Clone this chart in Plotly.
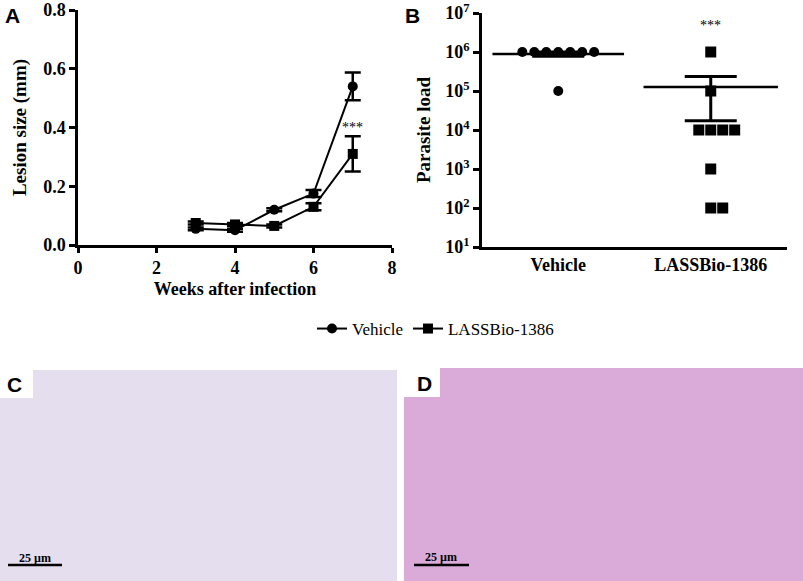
import numpy as np
import plotly.graph_objects as go

# ---------------- data ----------------
weeks = [3, 4, 5, 6, 7]
vehicle_lesion = [0.055, 0.05, 0.12, 0.175, 0.54]
vehicle_err = [0.005, 0.005, 0.005, 0.012, 0.047]
lass_lesion = [0.075, 0.07, 0.065, 0.13, 0.31]
lass_err = [0.005, 0.005, 0.005, 0.012, 0.06]

groups = ["Vehicle", "LASSBio-1386"]
vehicle_load = [1e6, 1e6, 1e6, 1e6, 1e6, 1e6, 1e6, 1e5]
lass_load = [1e6, 1e5, 1e4, 1e4, 1e4, 1e4, 1e3, 1e2, 1e2]

ytick_a = [0.0, 0.2, 0.4, 0.6, 0.8]
xtick_a = [0, 2, 4, 6, 8]
log_ticks = [1, 2, 3, 4, 5, 6, 7]

W, H = 803, 581
SERIF = "Liberation Serif, Times New Roman, serif"
SANS = "Liberation Sans, Arial, sans-serif"


def px(x):
    return x / W


def py(y):
    return 1 - y / H


def swarm(values, center, step):
    vals = np.array(values)
    xs = np.zeros(len(vals))
    for v in np.unique(vals):
        idx = np.where(vals == v)[0]
        n = len(idx)
        offs = np.arange(n) - (n - 1) // 2
        xs[idx] = center + offs * step
    return xs


fig = go.Figure()

# ---------------- panel A ----------------
fig.add_trace(go.Scatter(
    x=weeks, y=vehicle_lesion, mode="lines+markers", name="Vehicle",
    line=dict(color="black", width=2),
    marker=dict(symbol="circle", size=10, color="black"),
    error_y=dict(type="data", array=vehicle_err, color="black", thickness=2.5, width=8),
    xaxis="x", yaxis="y",
))
fig.add_trace(go.Scatter(
    x=weeks, y=lass_lesion, mode="lines+markers", name="LASSBio-1386",
    line=dict(color="black", width=2),
    marker=dict(symbol="square", size=10, color="black"),
    error_y=dict(type="data", array=lass_err, color="black", thickness=2.5, width=8),
    xaxis="x", yaxis="y",
))

# ---------------- panel B ----------------
step = 0.0785
for i, (vals, sym) in enumerate([(vehicle_load, "circle"), (lass_load, "square")]):
    center = i + 1
    xs = swarm(vals, center, step)
    fig.add_trace(go.Scatter(
        x=xs, y=vals, mode="markers", showlegend=False,
        marker=dict(symbol=sym, size=10 if sym == "circle" else 11, color="black"),
        xaxis="x2", yaxis="y2",
    ))
    arr = np.array(vals)
    m = arr.mean()
    sem = arr.std(ddof=1) / np.sqrt(len(arr))
    fig.add_trace(go.Scatter(
        x=[center], y=[m], mode="markers", showlegend=False,
        marker=dict(symbol="line-ew-open", size=94 if i == 0 else 96, color="black",
                    line=dict(color="black", width=2.5)),
        error_y=dict(type="data", array=[sem], arrayminus=[min(sem, m * 0.999)],
                     color="black", thickness=3, width=26),
        xaxis="x2", yaxis="y2",
    ))

axis_common = dict(
    showline=True, linecolor="black", linewidth=2.5, ticks="outside",
    tickcolor="black", tickwidth=2.5, ticklen=6, showgrid=False, zeroline=False,
    tickfont=dict(family=SERIF, size=18, color="black", weight="bold"),
    mirror=False, automargin=False, ticklabeloverflow="allow",
)

fig.update_layout(
    width=W, height=H, margin=dict(l=0, r=0, t=0, b=0, autoexpand=False),
    paper_bgcolor="white", plot_bgcolor="white",
    font=dict(family=SERIF, color="black"),
    xaxis=dict(domain=[px(78), px(392)], range=[0, 8], tickvals=xtick_a,
               anchor="y",
               title=dict(text="Weeks after infection", standoff=6,
                          font=dict(family=SERIF, size=18, color="black", weight="bold")),
               **{**axis_common, "ticklen": 5}),
    yaxis=dict(domain=[py(245), py(10)], range=[0, 0.8], tickvals=ytick_a,
               tickformat=".1f", anchor="x",
               title=dict(text="Lesion size (mm)", standoff=12,
                          font=dict(family=SERIF, size=19, color="black", weight="bold")),
               **axis_common),
    xaxis2=dict(domain=[px(482), px(787)], range=[0.5, 2.5], tickvals=[1, 2],
                ticktext=groups, anchor="y2",
                **{**axis_common, "ticks": "", "ticklen": 10}),
    yaxis2=dict(domain=[py(247), py(13)], type="log", range=[1, 7],
                tickvals=[10 ** k for k in log_ticks],
                ticktext=["10<sup>%d</sup>" % k for k in log_ticks], anchor="x2",
                title=dict(text="Parasite load", standoff=10,
                           font=dict(family=SERIF, size=19, color="black", weight="bold")),
                **axis_common),
    legend=dict(orientation="h", x=px(312), y=py(329), xanchor="left", yanchor="middle",
                font=dict(family=SERIF, size=17, color="black"),
                itemwidth=30, tracegroupgap=0, bgcolor="rgba(0,0,0,0)"),
    showlegend=True,
)

# significance stars
fig.add_annotation(x=7, y=0.40, xref="x", yref="y", text="***", showarrow=False,
                   xanchor="center", yanchor="middle",
                   font=dict(family=SERIF, size=14, color="black"))
fig.add_annotation(x=2, y=6.69, xref="x2", yref="y2", text="***", showarrow=False,
                   xanchor="center", yanchor="middle",
                   font=dict(family=SERIF, size=14, color="black"))

# histology panels (placeholders)
shapes = []
shapes.append(dict(type="rect", xref="paper", yref="paper", x0=px(0), x1=px(397),
                   y0=py(581), y1=py(370), fillcolor="#e4deee", line=dict(width=0), layer="below"))
shapes.append(dict(type="rect", xref="paper", yref="paper", x0=px(0), x1=px(33),
                   y0=py(398), y1=py(370), fillcolor="white", line=dict(width=0), layer="below"))
shapes.append(dict(type="rect", xref="paper", yref="paper", x0=px(404), x1=px(803),
                   y0=py(581), y1=py(368), fillcolor="#daaad8", line=dict(width=0), layer="below"))
shapes.append(dict(type="rect", xref="paper", yref="paper", x0=px(404), x1=px(440),
                   y0=py(397), y1=py(368), fillcolor="white", line=dict(width=0), layer="below"))
# scale bars
shapes.append(dict(type="line", xref="paper", yref="paper", x0=px(8), x1=px(62),
                   y0=py(565), y1=py(565), line=dict(color="black", width=2.5)))
shapes.append(dict(type="line", xref="paper", yref="paper", x0=px(414), x1=px(469),
                   y0=py(565), y1=py(565), line=dict(color="black", width=2.5)))
fig.update_layout(shapes=shapes)

for txt, x, y in [("25 µm", 35, 558), ("25 µm", 441, 557)]:
    fig.add_annotation(x=px(x), y=py(y), xref="paper", yref="paper", text=txt,
                       showarrow=False, xanchor="center", yanchor="middle",
                       font=dict(family=SERIF, size=12, color="black", weight="bold"))

for lab, x, y in [("A", 12, 15), ("B", 412, 15), ("C", 15, 384), ("D", 424, 383)]:
    fig.add_annotation(x=px(x), y=py(y), xref="paper", yref="paper", text=lab,
                       showarrow=False, xanchor="center", yanchor="middle",
                       font=dict(family=SANS, size=21, color="black", weight="bold"))

fig.write_html("out.html", config={"displayModeBar": False},
               post_script="document.body.style.margin='0';document.body.style.overflow='hidden';")
